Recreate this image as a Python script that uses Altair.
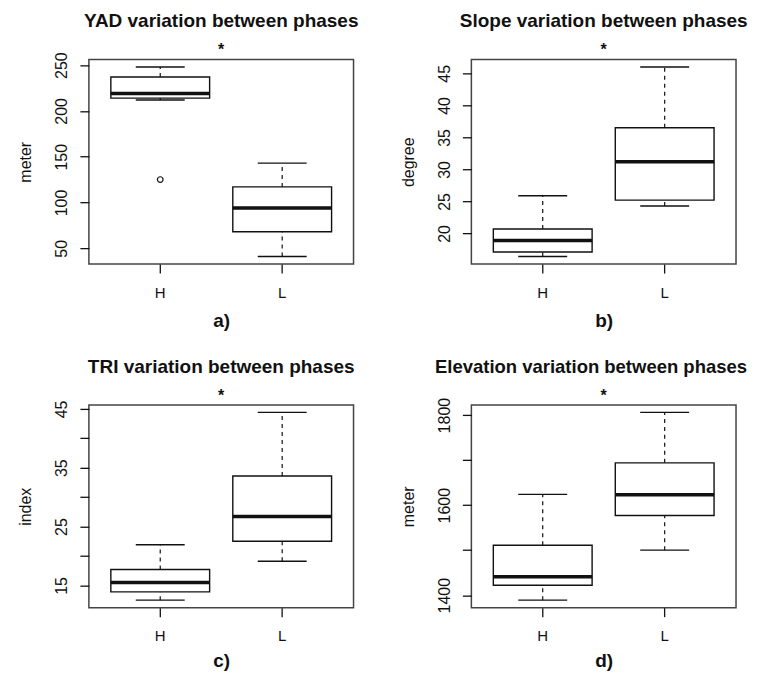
import altair as alt
import pandas as pd

categories = ["H", "L"]
titles = ["YAD variation between phases", "Slope variation between phases",
          "TRI variation between phases", "Elevation variation between phases"]
y_titles = ["meter", "degree", "index", "meter"]
letters = ["a)", "b)", "c)", "d)"]
marker = "*"

# five-number summaries per phase (H, L)
yad_low, yad_q1, yad_med, yad_q3, yad_high = [212, 41], [214, 68], [219, 94], [237, 117], [248, 143]
yad_out = [125]
slope_low, slope_q1, slope_med, slope_q3, slope_high = [16.4, 24.3], [17.1, 25.2], [18.9, 31.2], [20.7, 36.5], [25.9, 46.0]
tri_low, tri_q1, tri_med, tri_q3, tri_high = [12.5, 19.1], [13.9, 22.5], [15.5, 26.7], [17.7, 33.6], [21.9, 44.4]
elev_low, elev_q1, elev_med, elev_q3, elev_high = [1389, 1500], [1422, 1577], [1441, 1623], [1511, 1694], [1624, 1806]

yad_ticks, yad_shown = [50, 100, 150, 200, 250], [50, 100, 150, 200, 250]
slope_ticks, slope_shown = [20, 25, 30, 35, 40, 45], [20, 25, 30, 35, 40, 45]
tri_ticks, tri_shown = [15, 20, 25, 30, 35, 40, 45], [15, 25, 35, 45]
elev_ticks, elev_shown = [1400, 1500, 1600, 1700, 1800], [1400, 1600, 1800]

FONT = "Liberation Sans"
INK = "#111111"
W = 265


def panel(idx, low, q1, med, q3, high, out_vals, out_cat, ticks, shown, height,
          letter_y, title_size=19, title_align="center", title_x=W / 2):
    df = pd.DataFrame({"phase": categories, "low": low, "q1": q1, "med": med, "q3": q3, "high": high})
    allv = low + high + out_vals
    lo, hi = min(allv), max(allv)
    r = hi - lo
    dom = [lo - 0.04 * r, hi + 0.04 * r]
    xs = alt.Scale(domain=categories, paddingInner=0.19, paddingOuter=0.18)
    ys = alt.Scale(domain=dom, nice=False, zero=False)
    shown_s = "[" + ",".join(str(v) for v in shown) + "]"
    x = alt.X("phase:N", scale=xs, sort=categories, axis=alt.Axis(
        title=letters[idx], titleFontSize=19, titleFontWeight="bold", titleColor=INK,
        titleY=letter_y, titleBaseline="middle",
        labelAngle=0, labelBaseline="middle", labelPadding=19, labelFontSize=15, labelColor=INK,
        tickSize=9, tickColor=INK, tickWidth=1.3, domain=False, grid=False))
    yaxis = alt.Axis(
        title=y_titles[idx], titleFontSize=16, titleFontWeight="normal", titleColor=INK,
        titleX=-63, titleBaseline="middle", titleAlign="center", titleAngle=-90,
        values=ticks, format="d",
        labelExpr="indexof(" + shown_s + ", datum.value) >= 0 ? datum.label : ''",
        labelAngle=-90, labelAlign="center", labelBaseline="middle", labelPadding=18,
        labelFontSize=16, labelColor=INK, tickSize=9, tickColor=INK, tickWidth=1.3,
        domain=False, grid=False)
    base = alt.Chart(df)
    box = base.mark_bar(fill="white", stroke=INK, strokeWidth=1.4).encode(
        x=x, y=alt.Y("q1:Q", scale=ys, axis=yaxis), y2="q3:Q")
    wh_up = base.mark_rule(color=INK, strokeWidth=1.2, strokeDash=[4, 4]).encode(
        x=x, y=alt.Y("q3:Q", scale=ys, axis=yaxis), y2="high:Q")
    wh_dn = base.mark_rule(color=INK, strokeWidth=1.2, strokeDash=[4, 4]).encode(
        x=x, y=alt.Y("low:Q", scale=ys, axis=yaxis), y2="q1:Q")
    cap_up = base.mark_tick(color=INK, size=49, thickness=1.4, opacity=1).encode(
        x=x, y=alt.Y("high:Q", scale=ys, axis=yaxis))
    cap_dn = base.mark_tick(color=INK, size=49, thickness=1.4, opacity=1).encode(
        x=x, y=alt.Y("low:Q", scale=ys, axis=yaxis))
    median = base.mark_tick(color=INK, size=99, thickness=3.5, opacity=1).encode(
        x=x, y=alt.Y("med:Q", scale=ys, axis=yaxis))
    head = pd.DataFrame({"t": [titles[idx]], "s": [marker]})
    title_txt = alt.Chart(head).mark_text(
        fontSize=title_size, fontWeight="bold", color=INK, baseline="alphabetic", align=title_align).encode(
        text="t:N", x=alt.value(title_x), y=alt.value(-32))
    star = alt.Chart(head).mark_text(
        fontSize=16, fontWeight="bold", color=INK, baseline="middle", align="center").encode(
        text="s:N", x=alt.value(W / 2), y=alt.value(-9))
    layers = [box, wh_up, wh_dn, cap_up, cap_dn, median]
    if out_vals:
        odf = pd.DataFrame({"phase": out_cat, "v": out_vals})
        pts = alt.Chart(odf).mark_point(shape="circle", filled=False, size=32, color=INK,
                                        strokeWidth=1.2, opacity=1).encode(
            x=x, y=alt.Y("v:Q", scale=ys, axis=yaxis))
        layers.append(pts)
    layers += [title_txt, star]
    return alt.layer(*layers).properties(width=W, height=height)


a = panel(0, yad_low, yad_q1, yad_med, yad_q3, yad_high, yad_out, ["H"], yad_ticks, yad_shown, 205, 56)
b = panel(1, slope_low, slope_q1, slope_med, slope_q3, slope_high, [], [], slope_ticks, slope_shown, 205, 56)
c = panel(2, tri_low, tri_q1, tri_med, tri_q3, tri_high, [], [], tri_ticks, tri_shown, 203, 53)
d = panel(3, elev_low, elev_q1, elev_med, elev_q3, elev_high, [], [], elev_ticks, elev_shown, 203, 53,
          title_size=18.5, title_align="right", title_x=276)

chart = alt.concat(a, b, c, d, columns=2, spacing={"row": 141, "column": 118}, bounds="flush").properties(
    padding={"left": 9, "top": 3, "right": 0, "bottom": 0}
).configure(font=FONT).configure_view(stroke="#444444", strokeWidth=1.5)

chart.save("out.html", embed_options={"renderer": "svg", "actions": False})
